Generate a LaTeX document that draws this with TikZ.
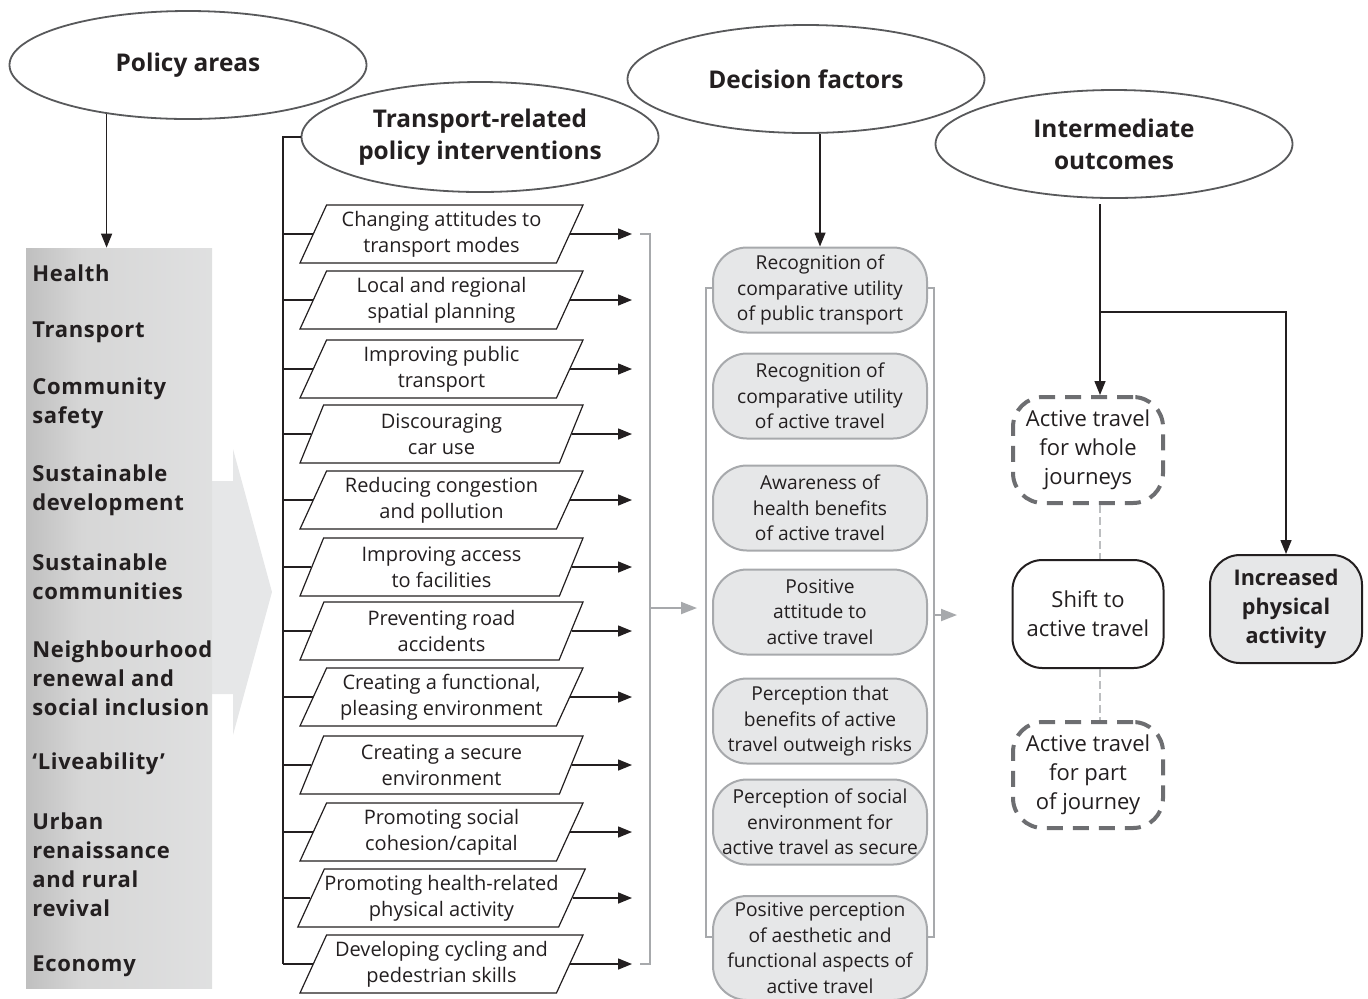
\documentclass[tikz,border=0pt]{standalone}
\usepackage{fontspec}
\setmainfont{Open Sans}
\newfontfamily\areafont[LetterSpace=3]{Open Sans}
\usepackage{tikz}
\usetikzlibrary{arrows.meta,shapes.geometric,calc}
\definecolor{boxgray}{HTML}{E6E7E8}
\definecolor{linegray}{HTML}{A7A9AC}
\definecolor{rimgray}{HTML}{58595B}
\definecolor{dashgray}{HTML}{6D6E71}
\definecolor{linkgray}{HTML}{BCBEC0}
\definecolor{inkblack}{HTML}{231F20}
\pgfdeclarehorizontalshading{policyshade}{100bp}{%
  color(0bp)=(black!40); color(40bp)=(black!16); color(100bp)=(boxgray)}
\tikzset{
  heading/.style={ellipse, draw=rimgray, line width=0.9pt, fill=white,
    minimum width=178.5pt, minimum height=54pt, inner sep=0pt, align=center,
    text=inkblack, font=\fontsize{12.2}{16}\selectfont\bfseries},
  area/.style={anchor=west, align=left, inner sep=0pt, text=inkblack,
    font=\areafont\fontsize{11}{14.5}\selectfont\bfseries},
  interv/.style={trapezium, trapezium left angle=60, trapezium right angle=120,
    trapezium stretches body, draw=inkblack, line width=0.6pt, fill=white,
    minimum width=141.5pt, minimum height=29pt, inner sep=0pt, align=center,
    text=inkblack, font=\fontsize{10}{13}\selectfont},
  factor/.style={rounded corners=17pt, draw=linegray, fill=boxgray, line width=1pt,
    minimum width=107pt, minimum height=42.5pt, inner sep=0pt, align=center,
    text=inkblack, font=\fontsize{9.6}{12.8}\selectfont},
  travel/.style={rounded corners=15pt, draw=dashgray, line width=2pt,
    dash pattern=on 8pt off 5pt, fill=white, minimum width=75pt, minimum height=53pt,
    inner sep=0pt, align=center, text=inkblack, font=\fontsize{11}{14.5}\selectfont},
  outcome/.style={rounded corners=15pt, draw=inkblack, line width=1pt, fill=white,
    minimum width=75.5pt, minimum height=54pt, inner sep=0pt, align=center,
    text=inkblack, font=\fontsize{11}{14.5}\selectfont},
  arr/.style={draw=inkblack, line width=0.75pt, -{Triangle[length=7pt,width=5.5pt]}},
  grayarr/.style={draw=linegray, line width=1pt, -{Triangle[length=8pt,width=6pt]}},
  trunkline/.style={draw=inkblack, line width=0.75pt},
  bracket/.style={draw=linegray, line width=1pt},
  link/.style={draw=linkgray, line width=0.75pt, dash pattern=on 4pt off 2pt},
}

\begin{document}
\begin{tikzpicture}[x=0.5pt,y=-0.5pt]
  \clip (0,0) rectangle (1368,998);
  \coordinate (trunk) at (283,964);
  \coordinate (arrowend) at (632,234);
  \coordinate (gb) at (650,608);
  \coordinate (gbEnd) at (697,608);
  \coordinate (dtopIn) at (713,288);
  \coordinate (dtop) at (706,288);
  \coordinate (dbot) at (706,937);
  \coordinate (dbotIn) at (713,937);
  \coordinate (dtoprIn) at (927,288);
  \coordinate (dtopr) at (934,288);
  \coordinate (dbotr) at (934,937);
  \coordinate (dbotrIn) at (927,937);
  \coordinate (dr) at (934,615);
  \coordinate (drEnd) at (957,615);
  \coordinate (ioTop) at (1100,204);
  \coordinate (ioFork) at (1100,312);

  % headings
  \node[heading] (pa)  at (188,65)   {Policy areas};
  \node[heading, minimum height=55pt] (tpi) at (480,137) {Transport-related\\policy interventions};
  \node[heading] (dec) at (806,79)   {Decision factors};
  \node[heading] (io)  at (1114,144) {Intermediate\\outcomes};

  % policy areas column
  \fill[boxgray] (205,481) -- (233,481) -- (233,449) -- (272,592)
    -- (233,735) -- (233,694) -- (205,694) -- cycle;
  \node[shading=policyshade, minimum width=93pt, minimum height=370pt,
    inner sep=0pt] (pol) at (119,618) {};
  \foreach \y/\txt [count=\i] in {273/Health, 332/Transport,
      403.5/{Community\\safety}, 490.5/{Sustainable\\development},
      576.5/{Sustainable\\communities},
      678/{Neighbourhood\\renewal and\\social inclusion},
      764/{‘Liveability’},
      864.5/{Urban\\renaissance\\and rural\\revival},
      966/Economy}
    \node[area] (ar\i) at (32,\y) {\txt};
  \draw[arr] (pa.211) -- (pa.211 |- pol.north);

  % interventions
  \foreach \y/\txt [count=\i] in {234/{Changing attitudes to\\transport modes},
      300/{Local and regional\\spatial planning},
      369/{Improving public\\transport},
      434/{Discouraging\\car use},
      500/{Reducing congestion\\and pollution},
      567/{Improving access\\to facilities},
      631/{Preventing road\\accidents},
      697/{Creating a functional,\\pleasing environment},
      765/{Creating a secure\\environment},
      832/{Promoting social\\cohesion/capital},
      898/{Promoting health-related\\physical activity},
      964/{Developing cycling and\\pedestrian skills}}
    \node[interv] (iv\i) at (441.5,\y) {\txt};
  \draw[trunkline] (tpi.west) -| (trunk);
  \foreach \i in {1,...,12}{
    \draw[trunkline] (trunk |- iv\i.left side) -- (iv\i.left side);
    \draw[arr] (iv\i.right side) -- (iv\i.right side -| arrowend);
  }
  \draw[bracket] (640,234) -| (650,964) -- (640,964);
  \draw[grayarr] (gb) -- (gbEnd);

  % decision factors
  \draw[bracket] (dtopIn) -- (dtop) -- (dbot) -- (dbotIn);
  \draw[bracket] (dtoprIn) -- (dtopr) -- (dbotr) -- (dbotrIn);
  \foreach \y/\txt [count=\i] in {290/{Recognition of\\comparative utility\\of public transport},
      396/{Recognition of\\comparative utility\\of active travel},
      508/{Awareness of\\health benefits\\of active travel},
      612/{Positive\\attitude to\\active travel},
      721/{Perception that\\benefits of active\\travel outweigh risks},
      822/{Perception of social\\environment for\\active travel as secure}}
    \node[factor] (df\i) at (820,\y) {\txt};
  \node[factor, minimum height=52pt] (df7) at (820,948)
    {Positive perception\\of aesthetic and\\functional aspects of\\active travel};
  \draw[arr] (dec.south -| df1.north) -- (df1.north);
  \draw[grayarr] (dr) -- (drEnd);

  % intermediate outcomes
  \node[travel] (whole) at (1088,450) {Active travel\\for whole\\journeys};
  \node[outcome] (shift) at (1088,614) {Shift to\\active travel};
  \node[travel] (part) at (1088,775) {Active travel\\for part\\of journey};
  \node[outcome, fill=boxgray, draw=inkblack, minimum width=76pt,
    font=\fontsize{10.8}{14.5}\selectfont\bfseries] (ipa) at (1286,609)
    {Increased\\physical\\activity};
  \draw[arr] (ioTop) -- (ioTop |- whole.north);
  \draw[arr] (ioFork) -| (ipa.north);
  \draw[link] (ioTop |- whole.south) -- (ioTop |- shift.north);
  \draw[link] (ioTop |- shift.south) -- (ioTop |- part.north);
\end{tikzpicture}
\end{document}
